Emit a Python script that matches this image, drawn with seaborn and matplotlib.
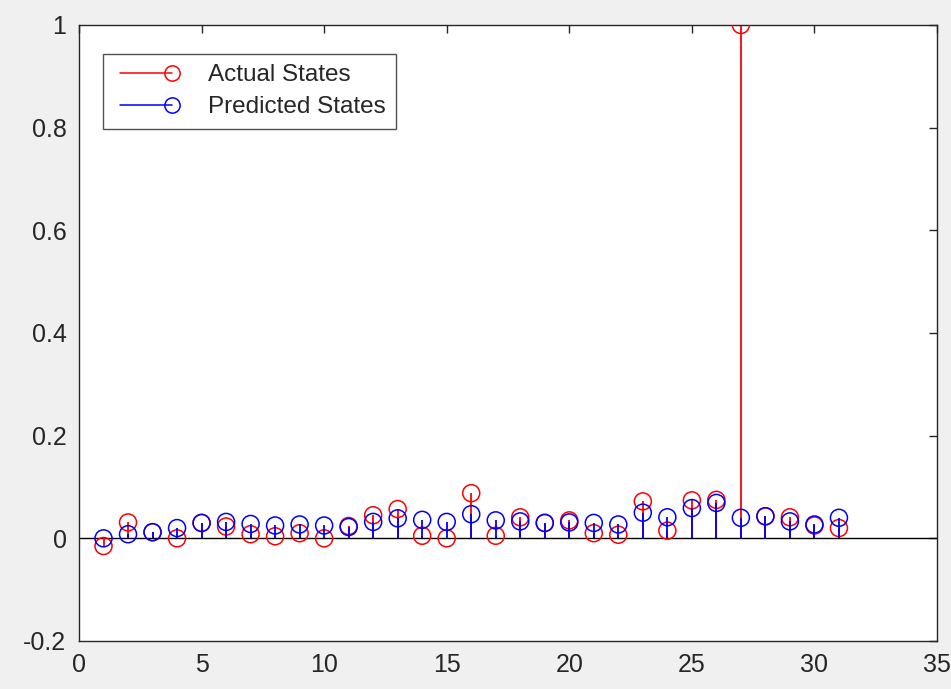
import numpy as np
import pandas as pd
import matplotlib
matplotlib.use("Agg")
import matplotlib.pyplot as plt
import seaborn as sns
from matplotlib.lines import Line2D
from matplotlib.legend_handler import HandlerBase

steps = list(range(1, 32))
actual = [-0.015, 0.031, 0.012, 0.0, 0.03, 0.023, 0.008, 0.004, 0.01, 0.0,
          0.024, 0.045, 0.057, 0.005, 0.0, 0.088, 0.005, 0.041, 0.03, 0.035,
          0.01, 0.007, 0.072, 0.015, 0.074, 0.075, 1.0, 0.043, 0.041, 0.025, 0.02]
predicted = [0.0, 0.008, 0.012, 0.02, 0.03, 0.032, 0.028, 0.025, 0.027, 0.025,
             0.022, 0.032, 0.039, 0.036, 0.032, 0.047, 0.035, 0.033, 0.03, 0.031,
             0.03, 0.027, 0.05, 0.041, 0.059, 0.069, 0.04, 0.043, 0.033, 0.027, 0.04]
series_names = ["Actual States", "Predicted States"]
series_colors = ["#ff0000", "#0000ff"]
xticks = [0, 5, 10, 15, 20, 25, 30, 35]
yticks = [-0.2, 0, 0.2, 0.4, 0.6, 0.8, 1]
ytick_labels = ["-0.2", "0", "0.2", "0.4", "0.6", "0.8", "1"]

df = pd.DataFrame({"step": steps * 2,
                   "value": actual + predicted,
                   "series": [series_names[0]] * len(steps) + [series_names[1]] * len(steps)})

sns.set_style("white")
plt.rcParams['font.family'] = ['Liberation Sans', 'DejaVu Sans']

fig = plt.figure(figsize=(9.51, 6.89), dpi=100, facecolor="#f0f0f0")
ax = fig.add_axes([79 / 951, 1 - 641 / 689, (937 - 79) / 951, (641 - 25) / 689])
ax.set_facecolor("white")

ax.axhline(0, color="black", lw=1.0, zorder=1)
z = 2
for name, col in zip(series_names, series_colors):
    sub = df[df["series"] == name]
    ax.vlines(sub["step"], 0, sub["value"], color=col, lw=1.3, zorder=z)
    sns.scatterplot(data=sub, x="step", y="value", ax=ax, marker="o", s=150,
                    facecolors="none", edgecolor=col, linewidth=1.1, zorder=z + 1,
                    legend=False)
    z += 2

ax.set_xlim(0, 35)
ax.set_ylim(-0.2, 1.0)
ax.set_xticks(xticks)
ax.set_yticks(yticks)
ax.set_xticklabels([str(t) for t in xticks])
ax.set_yticklabels(ytick_labels)
ax.set_xlabel("")
ax.set_ylabel("")
ax.tick_params(direction="in", length=6, width=1.0, top=True, right=True,
               labelsize=18, colors="#262626")
ax.tick_params(axis="x", pad=9)
ax.tick_params(axis="y", pad=9)
for sp in ax.spines.values():
    sp.set_color("#262626")
    sp.set_linewidth(1.0)


class StemHandler(HandlerBase):
    def create_artists(self, legend, orig_handle, xdescent, ydescent, width,
                       height, fontsize, trans):
        col = orig_handle.get_color()
        y = height / 2 - ydescent
        x0 = -xdescent + 0.12 * width
        x1 = -xdescent + width
        ln = Line2D([x0, x1], [y, y], color=col, lw=1.1, transform=trans)
        mk = Line2D([x1], [y], color=col, marker="o",
                    markersize=11, markerfacecolor="none", markeredgewidth=1.1,
                    linestyle="none", transform=trans)
        return [ln, mk]


handles = [Line2D([], [], color=c) for c in series_colors]
leg = ax.legend(handles, series_names, handler_map={Line2D: StemHandler()},
                loc="upper left", bbox_to_anchor=(24 / 858, 1 - 29 / 616),
                borderaxespad=0, fontsize=17.5,
                frameon=True, fancybox=False, edgecolor="#262626",
                handlelength=2.4, handletextpad=1.5, borderpad=0.42,
                labelspacing=0.42)
leg.get_frame().set_linewidth(1.0)
for t in leg.get_texts():
    t.set_color("#262626")

fig.savefig("out.png", dpi=100, facecolor=fig.get_facecolor())
